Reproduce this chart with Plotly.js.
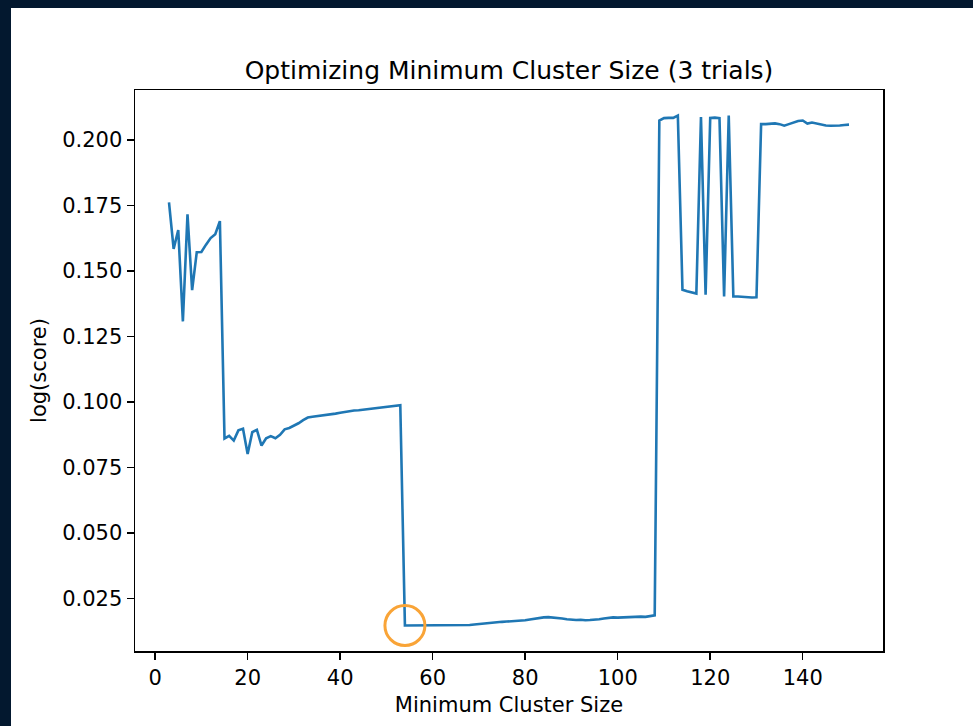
<!DOCTYPE html>
<html>
<head>
<meta charset="utf-8">
<script src="https://cdn.plot.ly/plotly-3.0.1.min.js"></script>
<style>
  html, body { margin: 0; padding: 0; width: 973px; height: 726px; overflow: hidden; background: #03182f; }
  #chart { position: absolute; left: 11px; top: 8px; width: 962px; height: 718px; background: #ffffff; }
</style>
</head>
<body>
<div id="chart"></div>
<script>
const minClusterSize = [
  3, 4, 5, 6, 7, 8, 9, 10, 11, 12, 13, 14, 15, 16, 17, 18, 19, 20, 21, 22,
  23, 24, 25, 26, 27, 28, 29, 30, 31, 32, 33, 34, 35, 36, 37, 38, 39, 40, 41, 42,
  43, 44, 45, 46, 47, 48, 49, 50, 51, 52, 53, 54, 55, 56, 57, 58, 59, 60, 61, 62,
  63, 64, 65, 66, 67, 68, 69, 70, 71, 72, 73, 74, 75, 76, 77, 78, 79, 80, 81, 82,
  83, 84, 85, 86, 87, 88, 89, 90, 91, 92, 93, 94, 95, 96, 97, 98, 99, 100, 101, 102,
  103, 104, 105, 106, 107, 108, 109, 110, 111, 112, 113, 114, 115, 116, 117, 118, 119, 120, 121, 122,
  123, 124, 125, 126, 127, 128, 129, 130, 131, 132, 133, 134, 135, 136, 137, 138, 139, 140, 141, 142,
  143, 144, 145, 146, 147, 148, 149, 150
];

const logScore = [
  0.1761, 0.1584, 0.1656, 0.1307, 0.1716, 0.1426, 0.1571, 0.1572, 0.1600, 0.1625,
  0.1640, 0.1690, 0.0860, 0.0870, 0.0852, 0.0891, 0.0897, 0.0801, 0.0884, 0.0893,
  0.0833, 0.0861, 0.0869, 0.0861, 0.0874, 0.0895, 0.0900, 0.0908, 0.0918, 0.0930,
  0.0940, 0.0943, 0.0945, 0.0947, 0.0950, 0.0952, 0.0955, 0.0958, 0.0961, 0.0965,
  0.0967, 0.0968, 0.0970, 0.0972, 0.0974, 0.0976, 0.0977, 0.0980, 0.0982, 0.0984,
  0.0987, 0.0146, 0.0146, 0.0147, 0.0147, 0.0148, 0.0148, 0.0148, 0.0147, 0.0147,
  0.0146, 0.0146, 0.0146, 0.0146, 0.0147, 0.0148, 0.0150, 0.0152, 0.0154, 0.0156,
  0.0158, 0.0159, 0.0160, 0.0161, 0.0162, 0.0163, 0.0164, 0.0166, 0.0169, 0.0172,
  0.0175, 0.0177, 0.0178, 0.0177, 0.0175, 0.0173, 0.0170, 0.0168, 0.0167, 0.0168,
  0.0166, 0.0167, 0.0168, 0.0170, 0.0173, 0.0176, 0.0177, 0.0176, 0.0177, 0.0177,
  0.0178, 0.0180, 0.0180, 0.0179, 0.0183, 0.0185, 0.2074, 0.2083, 0.2084, 0.2084,
  0.2093, 0.1428, 0.1422, 0.1418, 0.1413, 0.2087, 0.1409, 0.2084, 0.2085, 0.2083,
  0.1402, 0.2093, 0.1402, 0.1402, 0.1400, 0.1399, 0.1398, 0.1399, 0.2060, 0.2060,
  0.2061, 0.2063, 0.2060, 0.2054, 0.2060, 0.2066, 0.2072, 0.2074, 0.2062, 0.2066,
  0.2062, 0.2058, 0.2055, 0.2054, 0.2054, 0.2055, 0.2057, 0.2058
];

const xTicks = [0, 20, 40, 60, 80, 100, 120, 140];
const yTicks = [0.025, 0.050, 0.075, 0.100, 0.125, 0.150, 0.175, 0.200];
const titleText = "Optimizing Minimum Cluster Size (3 trials)";
const xLabel = "Minimum Cluster Size";
const yLabel = "log(score)";

// matplotlib-style 5% autoscale margins
function padded(arr) {
  const lo = Math.min(...arr), hi = Math.max(...arr);
  const m = (hi - lo) * 0.05;
  return [lo - m, hi + m];
}

// highlighted point: the minimum score
let minIdx = 0;
logScore.forEach((v, i) => { if (v < logScore[minIdx]) minIdx = i; });

const font = "DejaVu Sans, sans-serif";

const trace = {
  x: minClusterSize,
  y: logScore,
  type: "scatter",
  mode: "lines",
  line: { color: "#1f77b4", width: 2.6 },
  hoverinfo: "x+y"
};

const axisCommon = {
  showline: true, mirror: true, linecolor: "#000", linewidth: 1.5,
  ticks: "outside", ticklen: 7, tickwidth: 1.5, tickcolor: "#000",
  showgrid: false, zeroline: false,
  tickfont: { family: font, size: 21, color: "#000" }
};

const layout = {
  width: 962, height: 718,
  margin: { l: 124, r: 90, t: 82, b: 75 },
  paper_bgcolor: "#ffffff",
  plot_bgcolor: "#ffffff",
  showlegend: false,
  title: {
    text: titleText,
    font: { family: font, size: 25, color: "#000" },
    x: 0.5, xref: "paper", xanchor: "center",
    y: 0.9136, yref: "container", yanchor: "middle"
  },
  xaxis: Object.assign({}, axisCommon, {
    range: padded(minClusterSize),
    tickvals: xTicks,
    ticktext: xTicks.map(String),
    title: { text: xLabel, font: { family: font, size: 21, color: "#000" }, standoff: 8 }
  }),
  yaxis: Object.assign({}, axisCommon, {
    range: padded(logScore),
    tickvals: yTicks,
    ticktext: yTicks.map(v => v.toFixed(3)),
    title: { text: yLabel, font: { family: font, size: 21, color: "#000" }, standoff: 10 }
  }),
  shapes: [{
    type: "circle",
    xref: "x", yref: "y",
    xsizemode: "pixel", ysizemode: "pixel",
    xanchor: minClusterSize[minIdx], yanchor: logScore[minIdx],
    x0: -20, x1: 20, y0: -20, y1: 20,
    line: { color: "#f9a437", width: 3 },
    fillcolor: "rgba(0,0,0,0)"
  }]
};

Plotly.newPlot("chart", [trace], layout, { displayModeBar: false, staticPlot: true });
</script>
</body>
</html>
